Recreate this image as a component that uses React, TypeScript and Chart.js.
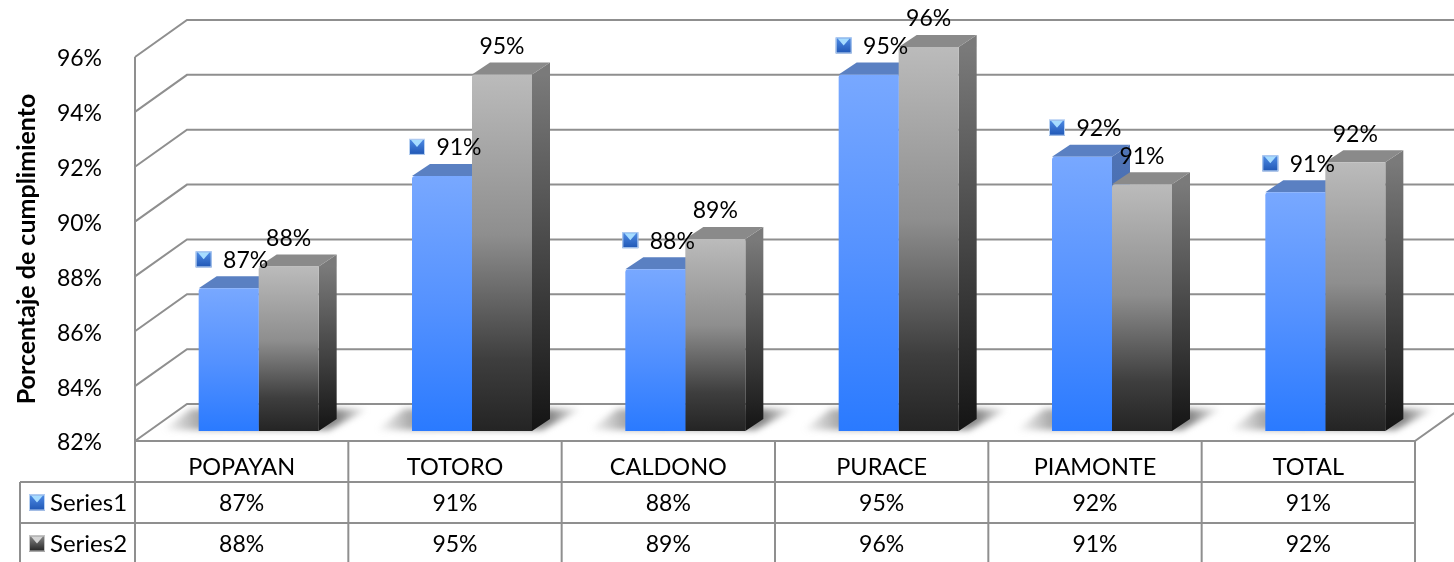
import React, { useEffect, useRef } from "react";
import { Chart, registerables } from "chart.js";

Chart.register(...registerables);

const categories = ["POPAYAN", "TOTORO", "CALDONO", "PURACE", "PIAMONTE", "TOTAL"];
const seriesNames = ["Series1", "Series2"];
const series1 = [87.2, 91.3, 87.9, 95, 92, 90.7];
const series2 = [88, 95, 89, 96, 91, 91.8];
const yTicks = [82, 84, 86, 88, 90, 92, 94, 96];

const FONT = "Lato, 'Open Sans', sans-serif";
const NUM_SIZE = 23;
const WORD_SIZE = 24;
const CAT_SIZE = 23.5;
const TEXT_DROP = 2;
const LINE = "#8f8f8f";
const WALL = { dx: 52, dy: -37 };
const BAR_SHIFT = { dx: 17, dy: -10 };
const BAR_DEPTH = { dx: 18, dy: -12 };

const pct = (v: number) => `${Math.round(v)}%`;

function frontGradient(c: any, stops: [number, string][]) {
  const chart = c.chart;
  const y = chart.scales?.y;
  if (!y || typeof c.raw !== "number") return stops[0][1];
  const top = y.getPixelForValue(c.raw);
  if (!Number.isFinite(top) || !Number.isFinite(y.bottom)) return stops[0][1];
  const g = chart.ctx.createLinearGradient(0, top, 0, y.bottom);
  stops.forEach(([p, col]) => g.addColorStop(p, col));
  return g;
}

function marker(ctx: CanvasRenderingContext2D, x: number, y: number, s: number, kind: number) {
  const g = ctx.createLinearGradient(0, y, 0, y + s);
  if (kind === 0) {
    g.addColorStop(0, "#4f8ce6");
    g.addColorStop(1, "#1f56b4");
  } else {
    g.addColorStop(0, "#8a8a8a");
    g.addColorStop(1, "#222222");
  }
  ctx.fillStyle = g;
  ctx.fillRect(x, y, s, s);
  ctx.fillStyle = kind === 0 ? "#a6dcff" : "#d4d4d4";
  ctx.beginPath();
  ctx.moveTo(x + 2, y + 1);
  ctx.lineTo(x + s - 2, y + 1);
  ctx.lineTo(x + s / 2, y + s * 0.5);
  ctx.closePath();
  ctx.fill();
  ctx.strokeStyle = kind === 0 ? "#b9d2f2" : "#c4c4c4";
  ctx.lineWidth = 1;
  ctx.strokeRect(x + 0.5, y + 0.5, s - 1, s - 1);
}

const walls3d = {
  id: "walls3d",
  beforeDatasetsDraw(chart: any) {
    const { ctx, chartArea: a, scales } = chart;
    ctx.save();
    ctx.strokeStyle = LINE;
    ctx.lineWidth = 2;
    // gridlines on side wall and back wall, floor included
    yTicks.forEach((t) => {
      const y = scales.y.getPixelForValue(t);
      ctx.beginPath();
      ctx.moveTo(a.left, y);
      ctx.lineTo(a.left + WALL.dx, y + WALL.dy);
      ctx.lineTo(a.right + WALL.dx, y + WALL.dy);
      if (t === yTicks[0]) ctx.lineTo(a.right, y);
      ctx.stroke();
    });
    // left wall edge
    ctx.beginPath();
    ctx.moveTo(a.left, a.top);
    ctx.lineTo(a.left, a.bottom);
    ctx.stroke();

    // data table
    const rowH = 41;
    const row1 = a.bottom + rowH;
    const row2 = row1 + rowH;
    const tableLeft = 20;
    const colW = (a.right - a.left) / categories.length;
    ctx.beginPath();
    ctx.moveTo(a.left, a.bottom);
    ctx.lineTo(a.right, a.bottom);
    [row1, row2].forEach((y) => {
      ctx.moveTo(tableLeft, y);
      ctx.lineTo(a.right, y);
    });
    ctx.moveTo(tableLeft, row1);
    ctx.lineTo(tableLeft, chart.height);
    categories.forEach((_, i) => {
      ctx.moveTo(a.left + i * colW, a.bottom);
      ctx.lineTo(a.left + i * colW, chart.height);
    });
    ctx.moveTo(a.right, a.bottom);
    ctx.lineTo(a.right, chart.height);
    ctx.stroke();

    ctx.textBaseline = "middle";
    [series1, series2].forEach((vals, r) => {
      const y = row1 + rowH * r + rowH / 2;
      ctx.textAlign = "center";
      ctx.fillStyle = "#000";
      ctx.font = `${NUM_SIZE}px ${FONT}`;
      vals.forEach((v, i) => ctx.fillText(pct(v), scales.x.getPixelForValue(i), y + TEXT_DROP - 1));
      ctx.textAlign = "left";
      ctx.font = `${WORD_SIZE}px ${FONT}`;
      ctx.fillText(seriesNames[r], 50, y + TEXT_DROP - 1);
      marker(ctx, 29, y - 8, 16, r);
    });

    // floor shadows
    const m0 = chart.getDatasetMeta(0).data;
    const m1 = chart.getDatasetMeta(1).data;
    const baseY = a.bottom + BAR_SHIFT.dy;
    m0.forEach((el: any, i: number) => {
      const l = el.x - el.width / 2 + BAR_SHIFT.dx;
      const r = m1[i].x + m1[i].width / 2 + BAR_SHIFT.dx + BAR_DEPTH.dx;
      const x0 = l - 36;
      const x1 = r + 32;
      const g = ctx.createLinearGradient(x0, 0, x1, 0);
      g.addColorStop(0, "rgba(130,130,130,0)");
      g.addColorStop((l - x0) / (x1 - x0), "rgba(130,130,130,0.7)");
      g.addColorStop((r - x0) / (x1 - x0), "rgba(120,120,120,0.9)");
      g.addColorStop(1, "rgba(120,120,120,0)");
      ctx.save();
      ctx.filter = "blur(3px)";
      ctx.fillStyle = g;
      ctx.beginPath();
      ctx.moveTo(x0, baseY - 1);
      ctx.lineTo(l - 8, baseY - 22);
      ctx.lineTo(x1, baseY - 22);
      ctx.lineTo(r - 8, baseY - 1);
      ctx.closePath();
      ctx.fill();
      ctx.restore();
    });

    // side and top faces of every bar
    const faces: [any[], string, string[]][] = [
      [m0, "#5a80c2", ["#4f73b4", "#1c57bb"]],
      [m1, "#8a8a8a", ["#7a7a7a", "#141414"]],
    ];
    m0.forEach((_: any, i: number) => {
      faces.forEach(([meta, topCol, sideCols]) => {
        const el = meta[i];
        const l = el.x - el.width / 2 + BAR_SHIFT.dx;
        const r = el.x + el.width / 2 + BAR_SHIFT.dx;
        const t = el.y + BAR_SHIFT.dy;
        const b = el.base + BAR_SHIFT.dy;
        const d = BAR_DEPTH;
        const g = ctx.createLinearGradient(0, t, 0, b);
        g.addColorStop(0, sideCols[0]);
        g.addColorStop(1, sideCols[1]);
        ctx.fillStyle = g;
        ctx.beginPath();
        ctx.moveTo(r, t);
        ctx.lineTo(r + d.dx, t + d.dy);
        ctx.lineTo(r + d.dx, b + d.dy);
        ctx.lineTo(r, b);
        ctx.closePath();
        ctx.fill();
        ctx.fillStyle = topCol;
        ctx.beginPath();
        ctx.moveTo(l, t);
        ctx.lineTo(l + d.dx, t + d.dy);
        ctx.lineTo(r + d.dx, t + d.dy);
        ctx.lineTo(r, t);
        ctx.closePath();
        ctx.fill();
      });
    });
    ctx.restore();
    // fronts drawn by the library, moved back along the depth axis
    ctx.save();
    ctx.translate(BAR_SHIFT.dx, BAR_SHIFT.dy);
  },
  afterDatasetsDraw(chart: any) {
    const { ctx } = chart;
    ctx.restore();
    ctx.save();
    ctx.font = `${NUM_SIZE}px ${FONT}`;
    ctx.textAlign = "center";
    ctx.textBaseline = "middle";
    const up = 29;
    chart.getDatasetMeta(0).data.forEach((el: any, i: number) => {
      const x = el.x + BAR_SHIFT.dx;
      const y = el.y + BAR_SHIFT.dy - up;
      marker(ctx, x - 33, y - 8, 16, 0);
      ctx.fillStyle = "#000";
      ctx.fillText(pct(series1[i]), x + 17, y + TEXT_DROP - 1);
    });
    ctx.fillStyle = "#000";
    chart.getDatasetMeta(1).data.forEach((el: any, i: number) => {
      ctx.fillText(pct(series2[i]), el.x + BAR_SHIFT.dx, el.y + BAR_SHIFT.dy - up + TEXT_DROP - 1);
    });
    ctx.restore();
  },
};

export default function App() {
  const ref = useRef<HTMLCanvasElement>(null);
  useEffect(() => {
    const chart = new Chart(ref.current!, {
      type: "bar",
      data: {
        labels: categories,
        datasets: [
          {
            label: seriesNames[0],
            data: series1,
            base: yTicks[0],
            clip: false,
            categoryPercentage: 0.5625,
            barPercentage: 1,
            borderRadius: { topLeft: 3, topRight: 0, bottomLeft: 0, bottomRight: 0 },
            borderSkipped: false,
            backgroundColor: (c: any) =>
              frontGradient(c, [
                [0, "#78a8ff"],
                [0.5, "#5592ff"],
                [1, "#2a7aff"],
              ]),
          },
          {
            label: seriesNames[1],
            data: series2,
            base: yTicks[0],
            clip: false,
            categoryPercentage: 0.5625,
            barPercentage: 1,
            borderRadius: { topLeft: 3, topRight: 0, bottomLeft: 0, bottomRight: 0 },
            borderSkipped: false,
            backgroundColor: (c: any) =>
              frontGradient(c, [
                [0, "#bbbbbb"],
                [0.45, "#8e8e8e"],
                [0.8, "#3e3e3e"],
                [1, "#242424"],
              ]),
          },
        ] as any,
      },
      options: {
        responsive: false,
        animation: false,
        devicePixelRatio: 1,
        layout: { padding: { top: 57, right: 39, left: 0, bottom: 0 } },
        plugins: { legend: { display: false }, tooltip: { enabled: false } },
        scales: {
          x: {
            grid: { display: false },
            border: { display: false },
            ticks: { color: "#000", font: { family: FONT, size: CAT_SIZE }, padding: 4, maxRotation: 0 },
            afterFit: (s: any) => {
              s.height = 121;
            },
          },
          y: {
            min: yTicks[0],
            max: yTicks[yTicks.length - 1],
            grid: { display: false },
            border: { display: false },
            ticks: {
              stepSize: 2,
              color: "#000",
              padding: 25,
              labelOffset: TEXT_DROP,
              font: { family: FONT, size: NUM_SIZE },
              callback: (v: any) => `${v}%`,
            },
            title: {
              display: true,
              text: "Porcentaje de cumplimiento",
              color: "#000",
              padding: { top: 12, bottom: 0 },
              font: { family: FONT, size: 25, weight: "bold" },
            },
            afterFit: (s: any) => {
              s.width = 135;
            },
          },
        },
      },
      plugins: [walls3d],
    } as any);
    return () => chart.destroy();
  }, []);
  return (
    <div style={{ position: "fixed", left: 0, top: 0, width: 1454, height: 562, background: "#fff" }}>
      <canvas ref={ref} width={1454} height={562} style={{ display: "block" }} />
    </div>
  );
}
